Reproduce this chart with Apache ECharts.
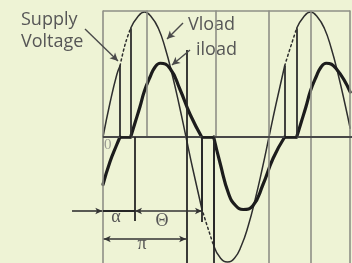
<!DOCTYPE html>
<html><head><meta charset="utf-8">
<script src="https://cdn.jsdelivr.net/npm/echarts@6/dist/echarts.min.js"></script>
<style>html,body{margin:0;padding:0;background:#eef3d5;}#c{width:352px;height:263px;}</style>
</head><body><div id="c"></div>
<script>
// x = phase angle in degrees (0 = rising zero of supply), y = value relative to supply peak
const vloadSeg1 = [[0,0],[15,0.27],[30,0.5],[37,0.57]];
const supplyDash1 = [[37,0.57],[45,0.7],[53,0.8],[60,0.87]];
const vloadSeg2 = [[60,0.87],[75,0.96],[90,1.0],[105,0.96],[120,0.87],[135,0.71],[150,0.5],[165,0.26],[180,0],[195,-0.26],[214,-0.57]];
const supplyDash2 = [[214,-0.57],[225,-0.7],[240,-0.87]];
const vloadSeg3 = [[240,-0.87],[255,-0.97],[270,-1.0],[285,-0.97],[300,-0.87],[315,-0.71],[330,-0.5],[345,-0.26],[360,0],[375,0.26],[394,0.57]];
const supplyDash3 = [[394,0.57],[405,0.7],[420,0.87]];
const vloadSeg4 = [[420,0.87],[435,0.96],[450,1.0],[465,0.96],[480,0.87],[495,0.71],[510,0.5],[525,0.26],[536,0.07]];
const vloadJumps = [[37,0.57],[60,0.87],[214,-0.57],[240,-0.87],[394,0.57],[420,0.87]];

const iloadTail = [[0,-0.38],[15,-0.2],[30,-0.06],[37,0]];
const iloadPos1 = [[60,0],[70,0.12],[80,0.24],[90,0.37],[102,0.48],[113,0.56],[124,0.59],[145,0.55],[167,0.38],[189,0.18],[214,0]];
const iloadNeg = [[240,0],[254,-0.21],[273,-0.46],[288,-0.55],[304,-0.58],[325,-0.55],[347,-0.38],[369,-0.17],[394,0]];
const iloadPos2 = [[420,0],[430,0.12],[440,0.24],[450,0.37],[462,0.48],[473,0.56],[484,0.59],[505,0.55],[536,0.36]];
const iloadZero = [[37,60],[214,240],[394,420]];

const gridFull = [0,360,451,536];
const gridUpper = [95,245];
const topBorder = 1.012, bottomEdge = -1.008;

const labelArrows = [[[-39,0.864],[32.5,0.608]],[[173.5,0.912],[138.8,0.784]],[[188.7,0.696],[149.6,0.576]]];
const markerLines = [[[182.2,0.696],[182.2,-1.008]],[[69.4,0],[69.4,-0.672]],[[214.7,0],[214.7,-0.68]],[[240,0],[240,-1.008]],[[0,-0.592],[69.4,-0.592]]];
const singleArrows = [[[-67.2,-0.592],[-1.5,-0.592]]];
const doubleArrows = [[[69.4,-0.592],[214.7,-0.592]],[[1.5,-0.816],[180.3,-0.816]]];

const VC = '#2e2e2e', IC = '#1c1c1c', GC = '#8e8f86';
function curve(d, w, c, dash){
  return {type:'line', data:d, smooth:0.5, symbol:'none', silent:true, animation:false,
    lineStyle:{width:w, color:c, type: dash || 'solid', cap:'round'}, z:3};
}
function lines(pairs, w, c, sym, size, z){
  return {type:'line', data:[], silent:true, animation:false, z:z||2,
    markLine:{silent:true, animation:false, symbol:sym||['none','none'], symbolSize:size||[6,8], label:{show:false},
      lineStyle:{color:c, width:w, type:'solid'},
      data:pairs.map(p=>[{coord:p[0]},{coord:p[1]}])}};
}
const series = [
  lines(gridFull.map(a=>[[a,bottomEdge],[a,topBorder]]), 1.6, GC, null, null, 1),
  lines(gridUpper.map(a=>[[a,0],[a,topBorder]]), 1.6, GC, null, null, 1),
  lines([[[0,topBorder],[536,topBorder]]], 1.6, GC, null, null, 1),
  lines([[[0,0],[540,0]]], 2, '#484848', null, null, 2),
  curve(vloadSeg1,1.5,VC), curve(vloadSeg2,1.5,VC), curve(vloadSeg3,1.5,VC), curve(vloadSeg4,1.5,VC),
  curve(supplyDash1,1.5,VC,[2,3]), curve(supplyDash2,1.5,VC,[2,3]), curve(supplyDash3,1.5,VC,[2,3]),
  lines(vloadJumps.map(p=>[[p[0],0],p]), 1.8, VC, null, null, 3),
  curve(iloadTail,3.2,IC), curve(iloadPos1,3.2,IC), curve(iloadNeg,3.2,IC), curve(iloadPos2,3.2,IC),
  lines(iloadZero.map(z=>[[z[0],0],[z[1],0]]), 2.6, IC, null, null, 3),
  lines(markerLines, 1.8, '#262626', null, null, 3),
  lines(labelArrows, 1.4, '#4a4a4a', ['none','arrow'], [6,8], 4),
  lines(singleArrows, 1.6, '#333', ['none','arrow'], [5,7], 4),
  lines(doubleArrows, 1.6, '#333', ['arrow','arrow'], [5,7], 4)
];
const chart = echarts.init(document.getElementById('c'), null, {renderer:'canvas'});
const sansF = '18px "Open Sans"', serF = '18px "Liberation Serif"';
chart.setOption({
  backgroundColor:'#eef3d5',
  animation:false,
  grid:{left:0,right:0,top:10,bottom:0},
  xAxis:{type:'value', min:-223.37, max:540, show:false},
  yAxis:{type:'value', min:-1.008, max:1.016, show:false},
  series: series,
  graphic:[
    {type:'text', x:21, y:20, style:{text:'Supply', font:sansF, fill:'#565656', verticalAlign:'middle'}},
    {type:'text', x:21, y:42, style:{text:'Voltage', font:sansF, fill:'#565656', verticalAlign:'middle'}},
    {type:'text', x:188, y:25, style:{text:'Vload', font:sansF, fill:'#565656', verticalAlign:'middle'}},
    {type:'text', x:196, y:50, style:{text:'iload', font:sansF, fill:'#565656', verticalAlign:'middle'}},
    {type:'text', x:104, y:145, style:{text:'0', font:'15px "Liberation Serif"', fill:'#9a9a92', verticalAlign:'middle'}},
    {type:'text', x:116, y:217, style:{text:'α', font:serF, fill:'#555', align:'center', verticalAlign:'middle'}},
    {type:'text', x:162, y:221, style:{text:'Θ', font:serF, fill:'#555', align:'center', verticalAlign:'middle'}},
    {type:'text', x:142, y:244, style:{text:'π', font:serF, fill:'#555', align:'center', verticalAlign:'middle'}}
  ]
});
</script></body></html>
